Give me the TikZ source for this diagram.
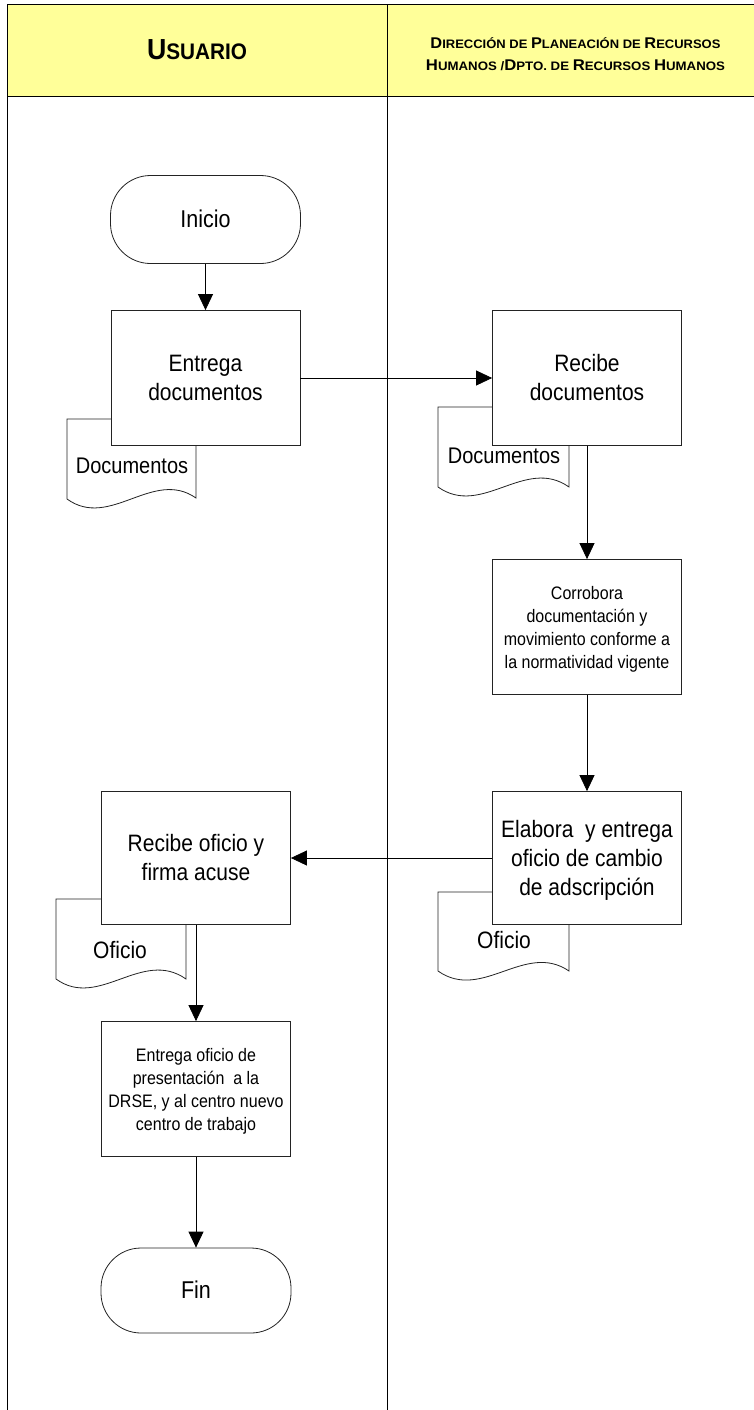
\documentclass[tikz,border=0pt]{standalone}
\usepackage{fontspec}
\setmainfont{Liberation Sans}
\usetikzlibrary{arrows.meta}
\definecolor{hdr}{RGB}{255,255,153}
\definecolor{ln}{RGB}{35,35,35}
\newcommand\hsc[2]{{\fontsize{15.5}{15.5}\selectfont #1}{\fontsize{12.3}{12.3}\selectfont #2}}
\newcommand\vt[1]{\raisebox{-2.5pt}[\height][\depth]{\scalebox{1}[1.13]{\begin{tabular}{@{}c@{}}#1\end{tabular}}}}
\begin{document}
\begin{tikzpicture}[x=1pt,y=-1pt,
  proc/.style={draw=ln, line width=0.8pt, fill=white, minimum width=189pt, minimum height=135pt, inner sep=0pt, align=center, font=\fontsize{21}{25.7}\selectfont},
  procs/.style={proc, font=\fontsize{16}{20.4}\selectfont},
  term/.style={draw=ln, line width=0.8pt, fill=white, rounded corners=40pt, minimum width=190pt, minimum height=88pt, inner sep=0pt, font=\fontsize{21.5}{26}\selectfont},
  flow/.style={draw=black, line width=0.8pt, -{Triangle[length=16pt,width=15pt]}},
  docshape/.style={draw=ln, line width=0.8pt, fill=white},
  doclbl/.style={inner sep=0pt},
  lane/.style={draw=black, line width=1pt},
  hdrtxt/.style={inner sep=0pt, anchor=base}
]
\useasboundingbox (0,0) rectangle (754,1410);
% header and lanes
\fill[hdr] (7,5) rectangle (754,97);
\draw[lane] (754,5) -- (7,5) -- (7,1410);
\draw[lane] (7,97) -- (754,97);
\draw[lane] (387,5) -- (387,1410);
\node[hdrtxt] (hU) at (197,60) {\resizebox{100pt}{\height}{\bfseries{\fontsize{29}{29}\selectfont U}{\fontsize{22.5}{23}\selectfont SUARIO}}};
\node[hdrtxt] (hD1) at (575.5,49) {\resizebox{290pt}{\height}{\bfseries\hsc{D}{IRECCIÓN DE }\hsc{P}{LANEACIÓN DE }\hsc{R}{ECURSOS}}};
\node[hdrtxt] (hD2) at (575.5,71) {\resizebox{299pt}{\height}{\bfseries\hsc{H}{UMANOS /}\hsc{D}{PTO. DE }\hsc{R}{ECURSOS }\hsc{H}{UMANOS}}};
% documents (behind the process boxes)
\draw[docshape] (67,419) -- (67,499) .. controls (110,530) and (153,468) .. (196,498) -- (196,419) -- cycle;
\node[doclbl, font=\fontsize{20}{24}\selectfont] (doc1) at (132,466) {\vt{Documentos}};
\draw[docshape] (438,407) -- (438,487) .. controls (482,518) and (525,456) .. (569,487) -- (569,407) -- cycle;
\node[doclbl, font=\fontsize{20}{24}\selectfont] (doc2) at (504,456) {\vt{Documentos}};
\draw[docshape] (438,892) -- (438,971) .. controls (482,1002) and (525,941) .. (569,971) -- (569,892) -- cycle;
\node[doclbl, font=\fontsize{21}{25}\selectfont] (ofi2) at (504,940) {\vt{Oficio}};
\draw[docshape] (56,899) -- (56,979) .. controls (99,1010) and (142,948) .. (186,979) -- (186,899) -- cycle;
\node[doclbl, font=\fontsize{21}{25}\selectfont] (ofi1) at (120,950) {\vt{Oficio}};
% process nodes
\node[term] (inicio) at (205.5,219.5) {\vt{Inicio}};
\node[proc] (entrega) at (205.5,378) {\vt{Entrega\\documentos}};
\node[proc] (recibe) at (587,378) {\vt{Recibe\\documentos}};
\node[procs] (corrobora) at (587,627) {\vt{Corrobora\\documentación y\\movimiento conforme a\\la normatividad vigente}};
\node[proc, minimum height=133pt] (elabora) at (587,858) {\vt{Elabora\ \ y entrega\\oficio de cambio\\de adscripción}};
\node[proc, minimum height=133pt] (reciboficio) at (196,858) {\vt{Recibe oficio y\\firma acuse}};
\node[procs] (entregaof) at (196,1089) {\vt{Entrega oficio de\\presentación\ \ a la\\DRSE, y al centro nuevo\\centro de trabajo}};
\node[term, minimum height=85pt] (fin) at (196,1290.5) {\vt{Fin}};
% connectors
\draw[flow] (inicio) -- (entrega);
\draw[flow] (entrega) -- (recibe);
\draw[flow] (recibe) -- (corrobora);
\draw[flow] (corrobora) -- (elabora);
\draw[flow] (elabora) -- (reciboficio);
\draw[flow] (reciboficio) -- (entregaof);
\draw[flow] (entregaof) -- (fin);
\end{tikzpicture}
\end{document}
